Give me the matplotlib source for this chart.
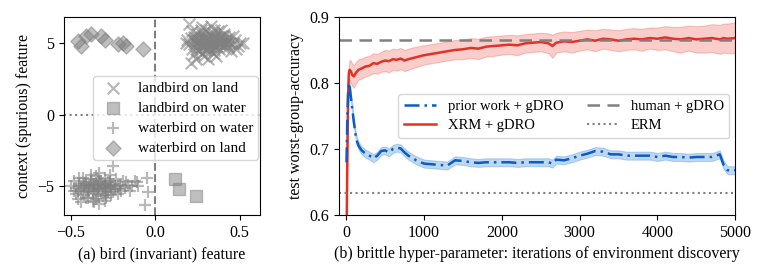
import numpy as np
import matplotlib.pyplot as plt

plt.rcParams['font.family'] = ['Liberation Serif', 'DejaVu Serif']
plt.rcParams['mathtext.fontset'] = 'stix'
plt.rcParams['font.size'] = 11.5

# ---- panel (a): toy data ----
lol_x = [0.18, 0.20, 0.21, 0.22, 0.23, 0.24, 0.25, 0.25, 0.26, 0.26, 0.27, 0.27, 0.28, 0.28,
         0.29, 0.29, 0.30, 0.30, 0.30, 0.31, 0.31, 0.32, 0.32, 0.33, 0.33, 0.34, 0.34, 0.35,
         0.35, 0.36, 0.36, 0.37, 0.37, 0.38, 0.38, 0.39, 0.40, 0.40, 0.41, 0.42, 0.43, 0.44,
         0.45, 0.46, 0.47, 0.48, 0.50, 0.52, 0.20, 0.21, 0.24, 0.28, 0.33, 0.36, 0.27, 0.31,
         0.22, 0.39, 0.29, 0.34, 0.25, 0.43, 0.23, 0.41, 0.35, 0.30,
         0.24, 0.26, 0.28, 0.30, 0.32, 0.34, 0.36, 0.38, 0.40, 0.42, 0.25, 0.27, 0.29, 0.31,
         0.33, 0.35, 0.37, 0.39, 0.41, 0.44, 0.23, 0.26, 0.29, 0.32, 0.35, 0.38, 0.42, 0.46,
         0.19, 0.49]
lol_y = [5.0, 4.9, 5.3, 4.6, 5.4, 5.1, 4.8, 5.6, 4.4, 5.2, 5.7, 4.7, 5.0, 4.2,
         5.5, 4.8, 5.1, 4.5, 5.9, 5.3, 4.7, 5.0, 5.6, 4.4, 5.2, 4.9, 5.7, 5.1,
         4.5, 5.4, 4.8, 5.0, 5.8, 4.6, 5.3, 5.0, 5.2, 4.7, 5.5, 4.9, 5.1, 5.4,
         4.4, 4.9, 5.2, 4.6, 5.0, 5.0, 6.3, 3.6, 3.9, 6.1, 6.2, 4.1, 5.9, 3.9,
         5.8, 5.9, 4.1, 4.3, 5.3, 4.7, 4.2, 5.6, 5.9, 5.0,
         5.0, 5.1, 4.9, 5.2, 4.8, 5.3, 5.0, 4.9, 5.1, 5.0, 4.6, 5.4, 5.3, 4.6,
         5.5, 4.7, 5.2, 5.5, 4.8, 5.0, 5.2, 4.9, 4.7, 5.1, 5.3, 5.1, 5.2, 5.5,
         5.2, 4.8]

low_x = [0.12, 0.14, 0.24]
low_y = [-4.5, -5.2, -5.7]

wow_x = [-0.50, -0.48, -0.47, -0.46, -0.45, -0.44, -0.43, -0.42, -0.42, -0.41, -0.40, -0.40,
         -0.39, -0.38, -0.38, -0.37, -0.37, -0.36, -0.36, -0.35, -0.35, -0.34, -0.34, -0.33,
         -0.33, -0.32, -0.32, -0.31, -0.31, -0.30, -0.30, -0.29, -0.28, -0.28, -0.27, -0.26,
         -0.25, -0.24, -0.23, -0.22, -0.21, -0.20, -0.19, -0.18, -0.16, -0.14, -0.12, -0.10,
         -0.25, -0.05, -0.04, -0.06, -0.46, -0.44, -0.35, -0.30, -0.38, -0.27, -0.33, -0.41,
         -0.22, -0.36, -0.29, -0.47,
         -0.44, -0.42, -0.40, -0.38, -0.36, -0.34, -0.32, -0.30, -0.28, -0.26, -0.24, -0.43,
         -0.39, -0.37, -0.35, -0.33, -0.31, -0.29, -0.27, -0.25, -0.21, -0.17, -0.48, -0.45,
         -0.41, -0.34, -0.30, -0.26, -0.15, -0.11]
wow_y = [-5.0, -4.6, -5.5, -5.9, -4.8, -5.2, -4.4, -5.6, -5.0, -4.7, -5.3, -5.8,
         -4.9, -5.1, -4.5, -5.4, -6.0, -4.8, -5.2, -5.0, -4.3, -5.6, -4.9, -5.1,
         -6.2, -4.6, -5.3, -5.0, -5.7, -4.4, -5.1, -4.9, -5.4, -4.7, -5.0, -5.6,
         -4.8, -5.2, -4.5, -5.0, -4.9, -5.3, -4.6, -5.1, -4.9, -5.0, -4.6, -5.0,
         -3.6, -4.4, -5.4, -6.3, -5.3, -6.1, -5.9, -6.0, -4.2, -4.2, -4.1, -5.8,
         -5.5, -6.1, -5.8, -5.1,
         -5.0, -4.8, -5.1, -4.7, -5.0, -5.2, -4.8, -5.3, -5.1, -4.9, -5.0, -5.4,
         -5.3, -4.9, -5.5, -4.7, -5.1, -5.6, -4.6, -5.4, -5.2, -4.7, -5.3, -4.4,
         -4.9, -4.5, -4.8, -5.1, -5.3, -4.7]

wol_x = [-0.46, -0.44, -0.41, -0.38, -0.32, -0.30, -0.22, -0.19, -0.17, -0.07]
wol_y = [5.1, 4.8, 5.5, 5.6, 5.5, 5.2, 4.9, 4.95, 4.8, 4.6]

# ---- panel (b): curves ----
it = [5, 15, 25, 35, 45, 60, 80, 100, 130, 160, 200, 250, 300, 350, 400, 450, 500, 550, 600,
      650, 700, 750, 800, 900, 1000, 1100, 1200, 1300, 1400, 1500, 1600, 1700, 1800, 1900,
      2000, 2100, 2200, 2300, 2400, 2500, 2600, 2650, 2700, 2800, 2900, 3000, 3100, 3200,
      3300, 3400, 3500, 3600, 3700, 3800, 3900, 4000, 4100, 4200, 4300, 4400, 4500, 4600,
      4700, 4800, 4850, 4900, 5000]

xrm = [0.55, 0.68, 0.78, 0.815, 0.82, 0.818, 0.812, 0.81, 0.816, 0.82, 0.822, 0.825, 0.826,
       0.830, 0.829, 0.832, 0.834, 0.833, 0.836, 0.835, 0.837, 0.834, 0.836, 0.839, 0.842,
       0.844, 0.846, 0.848, 0.850, 0.851, 0.853, 0.852, 0.855, 0.856, 0.857, 0.858, 0.857,
       0.860, 0.861, 0.862, 0.860, 0.856, 0.861, 0.863, 0.862, 0.864, 0.866, 0.864, 0.867,
       0.866, 0.864, 0.866, 0.867, 0.866, 0.868, 0.867, 0.869, 0.867, 0.866, 0.868, 0.866,
       0.867, 0.868, 0.866, 0.868, 0.867, 0.868]
xrm_lo = [0.54, 0.66, 0.76, 0.80, 0.805, 0.80, 0.795, 0.793, 0.80, 0.805, 0.807, 0.810, 0.812,
          0.815, 0.814, 0.817, 0.818, 0.816, 0.820, 0.819, 0.821, 0.818, 0.820, 0.824, 0.828,
          0.830, 0.832, 0.834, 0.836, 0.836, 0.838, 0.836, 0.840, 0.841, 0.843, 0.844, 0.842,
          0.846, 0.847, 0.848, 0.845, 0.838, 0.846, 0.848, 0.846, 0.849, 0.851, 0.848, 0.852,
          0.850, 0.848, 0.850, 0.851, 0.849, 0.852, 0.850, 0.851, 0.848, 0.846, 0.849, 0.846,
          0.846, 0.847, 0.844, 0.846, 0.845, 0.845]
xrm_hi = [0.56, 0.70, 0.80, 0.828, 0.835, 0.834, 0.829, 0.827, 0.832, 0.836, 0.837, 0.840,
          0.841, 0.845, 0.844, 0.847, 0.850, 0.849, 0.852, 0.851, 0.853, 0.850, 0.852, 0.855,
          0.857, 0.859, 0.861, 0.863, 0.865, 0.866, 0.868, 0.867, 0.870, 0.871, 0.872, 0.873,
          0.872, 0.874, 0.875, 0.876, 0.875, 0.873, 0.876, 0.878, 0.877, 0.879, 0.881, 0.880,
          0.882, 0.881, 0.880, 0.882, 0.883, 0.882, 0.884, 0.884, 0.886, 0.885, 0.885, 0.887,
          0.886, 0.887, 0.889, 0.888, 0.890, 0.890, 0.892]

prior = [0.68, 0.74, 0.78, 0.80, 0.795, 0.78, 0.76, 0.74, 0.715, 0.705, 0.698, 0.693, 0.690,
         0.686, 0.690, 0.697, 0.698, 0.695, 0.700, 0.702, 0.701, 0.695, 0.690, 0.683, 0.678,
         0.677, 0.676, 0.675, 0.683, 0.682, 0.680, 0.679, 0.680, 0.680, 0.680, 0.680, 0.679,
         0.680, 0.680, 0.680, 0.680, 0.678, 0.684, 0.683, 0.686, 0.690, 0.693, 0.697, 0.696,
         0.692, 0.692, 0.690, 0.690, 0.690, 0.690, 0.688, 0.690, 0.688, 0.688, 0.687, 0.688,
         0.688, 0.688, 0.692, 0.676, 0.668, 0.668]
prior_err = 0.006

h_human = 0.865
h_erm = 0.634

fig = plt.figure(figsize=(7.62, 2.73), dpi=100)
ax1 = fig.add_axes([0.084, 0.212, 0.257, 0.726])
ax2 = fig.add_axes([0.445, 0.212, 0.520, 0.726])

g = 'gray'
ax1.axvline(0, color=g, ls='--', lw=1.5, zorder=1)
ax1.axhline(0, color=g, ls=':', lw=1.5, zorder=1)
ax1.scatter(lol_x, lol_y, marker='x', s=70, color=g, alpha=0.55, linewidths=1.6,
            label='landbird on land')
ax1.scatter(low_x, low_y, marker='s', s=70, color=g, alpha=0.5, label='landbird on water')
ax1.scatter(wow_x, wow_y, marker='+', s=75, color=g, alpha=0.55, linewidths=1.6,
            label='waterbird on water')
ax1.scatter(wol_x, wol_y, marker='D', s=60, color=g, alpha=0.5, label='waterbird on land')
ax1.set_xlim(-0.54, 0.62)
ax1.set_ylim(-7.0, 6.8)
ax1.set_xticks([-0.5, 0.0, 0.5])
ax1.set_yticks([-5, 0, 5])
ax1.set_xlabel('(a) bird (invariant) feature')
ax1.set_ylabel('context (spurious) feature')
ax1.legend(loc='center right', fontsize=11, borderaxespad=0.1, handletextpad=0.6,
           borderpad=0.35, labelspacing=0.42, bbox_to_anchor=(1.0, 0.49))

ax2.fill_between(it, xrm_lo, xrm_hi, color='#e8382b', alpha=0.25, lw=0.8)
ax2.plot(it, xrm, color='#e03326', lw=1.8, label='XRM + gDRO')
pr = np.array(prior)
ax2.fill_between(it, pr - prior_err, pr + prior_err, color='#4a90d9', alpha=0.35, lw=0.8)
ax2.plot(it, prior, color='#0b5cc4', lw=1.8, ls=(0, (6, 2, 1, 2)), label='prior work + gDRO')
ax2.axhline(h_human, color=g, ls='--', lw=1.8, dashes=(5, 3), label='human + gDRO')
ax2.axhline(h_erm, color=g, ls=':', lw=1.5, label='ERM')
ax2.set_xlim(-90, 5000)
ax2.set_ylim(0.6, 0.9)
ax2.set_xticks([0, 1000, 2000, 3000, 4000, 5000])
ax2.set_yticks([0.6, 0.7, 0.8, 0.9])
ax2.set_xlabel('(b) brittle hyper-parameter: iterations of environment discovery')
ax2.set_ylabel('test worst-group-accuracy')
hs, ls = ax2.get_legend_handles_labels()
order = [1, 0, 2, 3]
ax2.legend([hs[i] for i in order], [ls[i] for i in order], ncol=2, loc='center right',
           fontsize=10.5, columnspacing=1.6, handlelength=2.2, borderaxespad=0.4,
           labelspacing=0.35)

fig.savefig('out.png', dpi=100)
